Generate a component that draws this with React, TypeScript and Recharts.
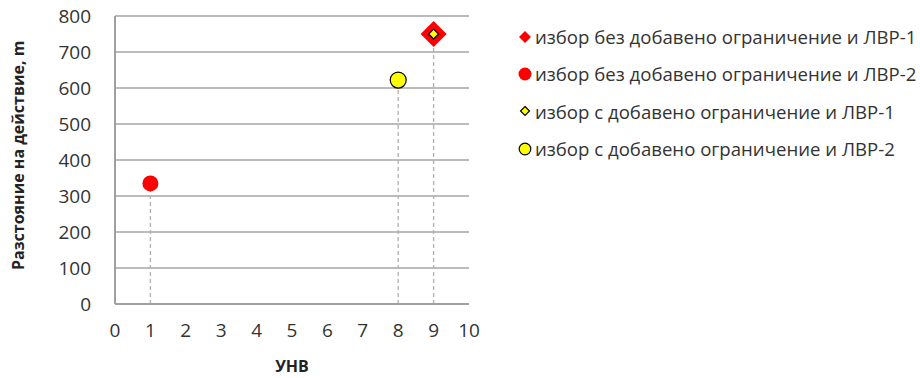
import {
  ReferenceLine,
  Scatter,
  ScatterChart,
  XAxis,
  YAxis,
  CartesianGrid,
} from "recharts";

const seriesNames = [
  "избор без добавено ограничение и ЛВР-1",
  "избор без добавено ограничение и ЛВР-2",
  "избор с добавено ограничение и ЛВР-1",
  "избор с добавено ограничение и ЛВР-2",
];

const unvNoLimit1 = [{ x: 9, y: 750 }];
const unvNoLimit2 = [{ x: 1, y: 335 }];
const unvLimit1 = [{ x: 9, y: 750 }];
const unvLimit2 = [{ x: 8, y: 622 }];

const xTicks = [0, 1, 2, 3, 4, 5, 6, 7, 8, 9, 10];
const yTicks = [0, 100, 200, 300, 400, 500, 600, 700, 800];

const FONT = "'Open Sans', sans-serif";
const TEXT = "#333";

type ShapeProps = { cx?: number; cy?: number };

const diamond = (r: number, fill: string, stroke?: string) => (p: ShapeProps) => {
  const { cx = 0, cy = 0 } = p;
  return (
    <polygon
      points={`${cx},${cy - r} ${cx + r},${cy} ${cx},${cy + r} ${cx - r},${cy}`}
      fill={fill}
      stroke={stroke ?? "none"}
      strokeWidth={1.2}
    />
  );
};

const circle = (r: number, fill: string, stroke?: string) => (p: ShapeProps) => {
  const { cx = 0, cy = 0 } = p;
  return <circle cx={cx} cy={cy} r={r} fill={fill} stroke={stroke ?? "none"} strokeWidth={1.2} />;
};

const legendIcons = [
  <polygon points="7,1 13,7 7,13 1,7" fill="#ff0000" />,
  <circle cx={7} cy={7} r={6.5} fill="#ff0000" />,
  <polygon points="7,2.5 11.5,7 7,11.5 2.5,7" fill="#ffff00" stroke="#000" strokeWidth={1.2} />,
  <circle cx={7} cy={7} r={5.8} fill="#ffff00" stroke="#000" strokeWidth={1.2} />,
];

function LegendBox() {
  return (
    <div
      style={{
        position: "absolute",
        left: 518,
        top: 18,
        fontFamily: FONT,
        fontSize: 18.6,
        color: TEXT,
      }}
    >
      {seriesNames.map((name, i) => (
        <div key={name} style={{ display: "flex", alignItems: "center", height: 37.3, whiteSpace: "nowrap" }}>
          <svg width={14} height={14} style={{ marginRight: 3 }}>
            {legendIcons[i]}
          </svg>
          <span>{name}</span>
        </div>
      ))}
    </div>
  );
}

const dropPoints = [...unvNoLimit1, ...unvNoLimit2, ...unvLimit2];

export default function App() {
  return (
    <div style={{ position: "absolute", left: 0, top: 0, width: 920, height: 378, background: "#fff" }}>
      <ScatterChart width={920} height={378} margin={{ top: 16, right: 451, bottom: 0, left: 35 }}>
        <CartesianGrid horizontal vertical={false} stroke="#a6a6a6" strokeWidth={1.5} />
        <XAxis
          type="number"
          dataKey="x"
          domain={[0, 10]}
          ticks={xTicks}
          interval={0}
          height={74}
          tickLine={false}
          axisLine={{ stroke: "#a0a0a0", strokeWidth: 2 }}
          tick={{ fill: TEXT, fontSize: 19, fontFamily: FONT }}
          tickMargin={14}
          label={{
            value: "УНВ",
            position: "insideBottom",
            offset: 0,
            dy: -6,
            style: { fontFamily: FONT, fontSize: 16, fontWeight: 700, fill: "#222" },
          }}
        />
        <YAxis
          type="number"
          dataKey="y"
          domain={[0, 800]}
          ticks={yTicks}
          interval={0}
          width={80}
          tickLine={false}
          axisLine={{ stroke: "#a0a0a0", strokeWidth: 2 }}
          tick={{ fill: TEXT, fontSize: 19, fontFamily: FONT }}
          tickMargin={18}
          label={{
            value: "Разстояние на действие, m",
            angle: -90,
            position: "insideLeft",
            offset: -17,
            dy: 110,
            style: { fontFamily: FONT, fontSize: 16, fontWeight: 700, fill: "#222" },
          }}
        />
        {dropPoints.map((p) => (
          <ReferenceLine
            key={`${p.x}-${p.y}`}
            segment={[
              { x: p.x, y: 0 },
              { x: p.x, y: p.y },
            ]}
            stroke="#b0b0b0"
            strokeDasharray="4 3"
            strokeWidth={1.3}
          />
        ))}
        <Scatter name={seriesNames[0]} data={unvNoLimit1} shape={diamond(13, "#ff0000")} isAnimationActive={false} />
        <Scatter name={seriesNames[1]} data={unvNoLimit2} shape={circle(8, "#ff0000")} isAnimationActive={false} />
        <Scatter name={seriesNames[2]} data={unvLimit1} shape={diamond(5, "#ffff00", "#000")} isAnimationActive={false} />
        <Scatter name={seriesNames[3]} data={unvLimit2} shape={circle(8, "#ffff00", "#000")} isAnimationActive={false} />
      </ScatterChart>
      <LegendBox />
    </div>
  );
}
